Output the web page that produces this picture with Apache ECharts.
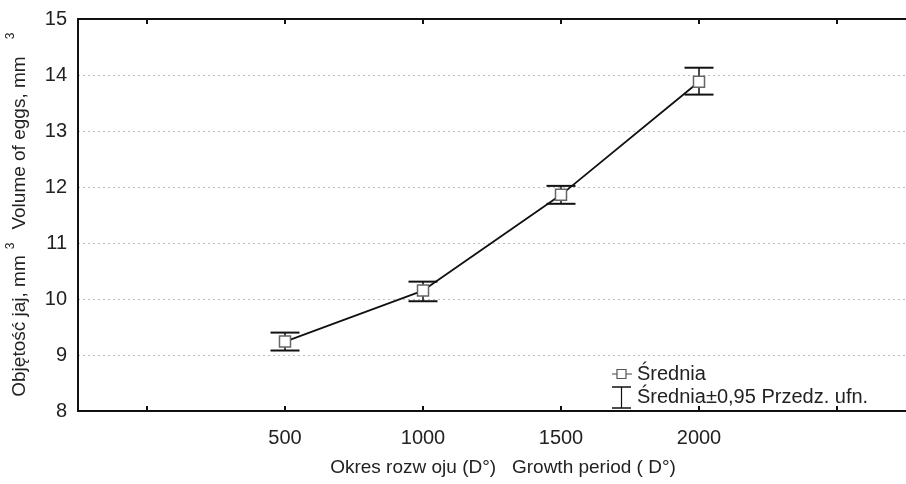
<!DOCTYPE html>
<html><head><meta charset="utf-8">
<script src="https://cdn.jsdelivr.net/npm/echarts@6/dist/echarts.min.js"></script>
<style>html,body{margin:0;padding:0;background:#fff}#c{width:906px;height:484px}</style>
</head><body><div id="c"></div>
<script>
const periods = [500, 1000, 1500, 2000];
const means = [9.24, 10.15, 11.86, 13.88];
const ciLow = [9.08, 9.96, 11.70, 13.65];
const ciHigh = [9.40, 10.31, 12.02, 14.13];
const xTicks = [0, 500, 1000, 1500, 2000, 2500];
const xLabels = [500, 1000, 1500, 2000];
const yTitleLocal = 'Objętość jaj, mm';
const yTitleEn = 'Volume of eggs, mm';
const xTitle = 'Okres rozw oju (D°)   Growth period ( D°)';
const legendMean = 'Średnia';
const legendCI = 'Średnia±0,95 Przedz. ufn.';

const FONT = 'Liberation Sans, Arial, sans-serif';
const FS = 20;
const FT = 19;
const chart = echarts.init(document.getElementById('c'));
const meanData = periods.map((p, i) => [p, means[i]]);
const ciData = periods.map((p, i) => [p, ciLow[i], ciHigh[i]]);

function txt(x, y, text, size, opts) {
  return Object.assign({ type: 'text', x: x, y: y, style: { text: text, fontSize: size, fontFamily: FONT, fill: '#222', align: 'center', verticalAlign: 'middle' } }, opts || {});
}

chart.setOption({
  backgroundColor: '#fff',
  animation: false,
  grid: { left: 78, top: 19, width: 837, height: 392 },
  xAxis: [{
    type: 'value', min: -250, max: 2750, position: 'bottom',
    axisLine: { show: true, onZero: false, lineStyle: { color: '#111', width: 2 } },
    axisTick: { show: true, inside: true, length: 5, customValues: xTicks, lineStyle: { color: '#111', width: 2 } },
    axisLabel: { customValues: xLabels, formatter: function (v) { return String(v); }, color: '#222', fontSize: FS, fontFamily: FONT, margin: 17 },
    splitLine: { show: false }
  }, {
    type: 'value', min: -250, max: 2750, position: 'top',
    axisLine: { show: true, onZero: false, lineStyle: { color: '#111', width: 2 } },
    axisTick: { show: true, inside: true, length: 5, customValues: xTicks, lineStyle: { color: '#111', width: 2 } },
    axisLabel: { show: false },
    splitLine: { show: false }
  }],
  yAxis: {
    type: 'value', min: 8, max: 15, interval: 1,
    axisLine: { show: true, onZero: false, lineStyle: { color: '#111', width: 2 } },
    axisTick: { show: false },
    axisLabel: { color: '#222', fontSize: FS, fontFamily: FONT, margin: 11 },
    splitLine: { show: true, lineStyle: { color: '#bbb', type: [2, 3], width: 1 } }
  },
  series: [{
    type: 'line', data: meanData, symbol: 'none', z: 2,
    lineStyle: { color: '#111', width: 1.8 }
  }, {
    type: 'custom', data: ciData, z: 3,
    renderItem: function (params, api) {
      const x = api.value(0);
      const lo = api.coord([x, api.value(1)]);
      const hi = api.coord([x, api.value(2)]);
      const hw = 14.5;
      const st = { stroke: '#111', lineWidth: 2 };
      return { type: 'group', children: [
        { type: 'line', shape: { x1: lo[0], y1: lo[1], x2: hi[0], y2: hi[1] }, style: { stroke: '#111', lineWidth: 1.5 } },
        { type: 'line', shape: { x1: hi[0] - hw, y1: hi[1], x2: hi[0] + hw, y2: hi[1] }, style: st },
        { type: 'line', shape: { x1: lo[0] - hw, y1: lo[1], x2: lo[0] + hw, y2: lo[1] }, style: st }
      ] };
    }
  }, {
    type: 'scatter', data: meanData, symbol: 'rect', symbolSize: 11, z: 4,
    itemStyle: { color: '#fff', borderColor: '#666', borderWidth: 1.5, opacity: 1 }
  }],
  graphic: [
    txt(20, 326, yTitleLocal, FT, { rotation: Math.PI / 2 }),
    txt(11, 246, '3', 12, { rotation: Math.PI / 2 }),
    txt(20, 143, yTitleEn, FT, { rotation: Math.PI / 2 }),
    txt(11, 36, '3', 12, { rotation: Math.PI / 2 }),
    txt(503, 468, xTitle, FT),
    { type: 'line', shape: { x1: 612, y1: 374, x2: 632, y2: 374 }, style: { stroke: '#444', lineWidth: 1 } },
    { type: 'rect', shape: { x: 617, y: 369.5, width: 9, height: 9 }, style: { fill: '#fff', stroke: '#555', lineWidth: 1.2 } },
    { type: 'text', x: 637, y: 374, style: { text: legendMean, fontSize: FS, fontFamily: FONT, fill: '#222', align: 'left', verticalAlign: 'middle' } },
    { type: 'line', shape: { x1: 621.5, y1: 387, x2: 621.5, y2: 408 }, style: { stroke: '#111', lineWidth: 1.2 } },
    { type: 'line', shape: { x1: 612, y1: 387, x2: 631, y2: 387 }, style: { stroke: '#111', lineWidth: 1.5 } },
    { type: 'line', shape: { x1: 612, y1: 408, x2: 631, y2: 408 }, style: { stroke: '#111', lineWidth: 1.5 } },
    { type: 'text', x: 637, y: 397, style: { text: legendCI, fontSize: FS, fontFamily: FONT, fill: '#222', align: 'left', verticalAlign: 'middle' } }
  ]
});
</script></body></html>
